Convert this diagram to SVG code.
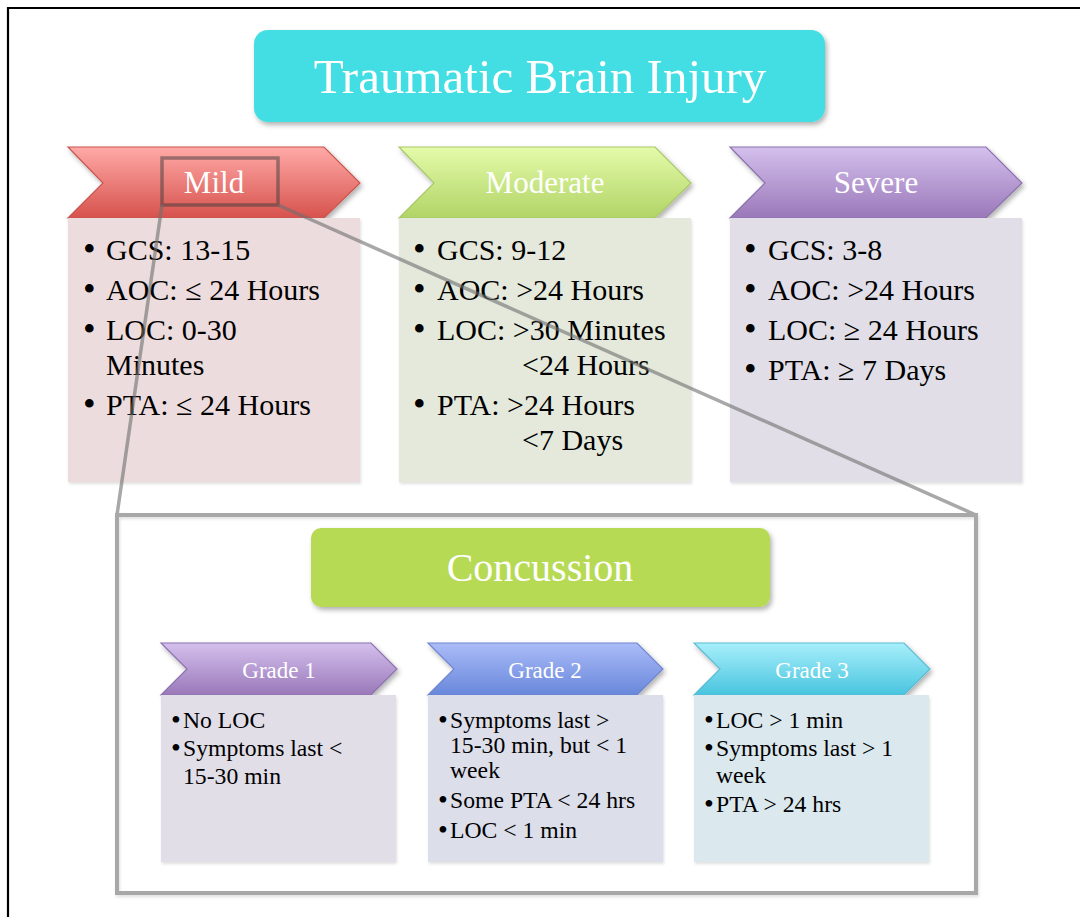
<svg xmlns="http://www.w3.org/2000/svg" width="1080" height="917" viewBox="0 0 1080 917">
<defs>
<linearGradient id="gRed" x1="0" y1="0" x2="0" y2="1"><stop offset="0" stop-color="#FFAAA7"/><stop offset="1" stop-color="#D7524D"/></linearGradient>
<linearGradient id="gGreen" x1="0" y1="0" x2="0" y2="1"><stop offset="0" stop-color="#E4FBAA"/><stop offset="1" stop-color="#B1D466"/></linearGradient>
<linearGradient id="gPurple" x1="0" y1="0" x2="0" y2="1"><stop offset="0" stop-color="#D4C0ED"/><stop offset="1" stop-color="#9A78B9"/></linearGradient>
<linearGradient id="gBlue" x1="0" y1="0" x2="0" y2="1"><stop offset="0" stop-color="#ABBCF8"/><stop offset="1" stop-color="#6887DB"/></linearGradient>
<linearGradient id="gCyan" x1="0" y1="0" x2="0" y2="1"><stop offset="0" stop-color="#A8EFFB"/><stop offset="1" stop-color="#48C4DE"/></linearGradient>
<filter id="sh" x="-10%" y="-10%" width="125%" height="135%"><feDropShadow dx="2" dy="3" stdDeviation="2.5" flood-color="#000" flood-opacity="0.3"/></filter>
<filter id="shs" x="-10%" y="-10%" width="125%" height="135%"><feDropShadow dx="1" dy="2" stdDeviation="1.5" flood-color="#000" flood-opacity="0.12"/></filter>
</defs>
<style>
.lbl{font-family:"Liberation Serif","Times New Roman",serif;fill:#fff;text-anchor:middle}
.t{font-family:"Liberation Serif","Times New Roman",serif;fill:#000;font-size:30px}
.b{font-family:"Liberation Serif","Times New Roman",serif;fill:#000;font-size:36px}
.g{font-family:"Liberation Serif","Times New Roman",serif;fill:#000;font-size:23.7px}
.gb{font-family:"Liberation Serif","Times New Roman",serif;fill:#000;font-size:28px}
.chev{stroke-width:1.2}
.conn{fill:none;stroke:#6e6e6e;stroke-opacity:0.6;stroke-width:3.5}
</style>
<rect x="0" y="0" width="1080" height="917" fill="#fff"/>
<path d="M8,917 V8 H1080" fill="none" stroke="#000" stroke-width="2.2"/>

<g id="title">
<rect x="254" y="30" width="571" height="92" rx="14" fill="#42DEE3" filter="url(#sh)"/>
<text class="lbl" x="540" y="93" font-size="49">Traumatic Brain Injury</text>
</g>

<g id="mild">
<path class="chev" d="M68,147 H324 L360,183 L324,218 H68 L103,183 Z" fill="url(#gRed)" stroke="#C9554F" filter="url(#sh)"/>
<text class="lbl" x="214" y="193" font-size="31">Mild</text>
<rect x="68" y="218" width="292" height="264" fill="#EDDCDD" filter="url(#shs)"/>
<text class="b" x="83" y="261">•</text><text class="t" x="106" y="260">GCS: 13-15</text>
<text class="b" x="83" y="301">•</text><text class="t" x="106" y="300">AOC: ≤ 24 Hours</text>
<text class="b" x="83" y="341">•</text><text class="t" x="106" y="340">LOC: 0-30</text>
<text class="t" x="106" y="375">Minutes</text>
<text class="b" x="83" y="416">•</text><text class="t" x="106" y="415">PTA: ≤ 24 Hours</text>
</g>

<g id="moderate">
<path class="chev" d="M399,147 H655 L691,183 L655,218 H399 L434,183 Z" fill="url(#gGreen)" stroke="#A9C86A" filter="url(#sh)"/>
<text class="lbl" x="545" y="193" font-size="31">Moderate</text>
<rect x="399" y="218" width="292" height="264" fill="#E4E9DB" filter="url(#shs)"/>
<text class="b" x="413" y="261">•</text><text class="t" x="437" y="260">GCS: 9-12</text>
<text class="b" x="413" y="301">•</text><text class="t" x="437" y="300">AOC: &gt;24 Hours</text>
<text class="b" x="413" y="341">•</text><text class="t" x="437" y="340">LOC: &gt;30 Minutes</text>
<text class="t" x="522" y="375">&lt;24 Hours</text>
<text class="b" x="413" y="416">•</text><text class="t" x="437" y="415">PTA: &gt;24 Hours</text>
<text class="t" x="522" y="450">&lt;7 Days</text>
</g>

<g id="severe">
<path class="chev" d="M730,147 H986 L1022,183 L986,218 H730 L765,183 Z" fill="url(#gPurple)" stroke="#8C72AE" filter="url(#sh)"/>
<text class="lbl" x="876" y="193" font-size="31">Severe</text>
<rect x="730" y="218" width="292" height="264" fill="#E1DEE7" filter="url(#shs)"/>
<text class="b" x="744" y="261">•</text><text class="t" x="768" y="260">GCS: 3-8</text>
<text class="b" x="744" y="301">•</text><text class="t" x="768" y="300">AOC: &gt;24 Hours</text>
<text class="b" x="744" y="341">•</text><text class="t" x="768" y="340">LOC: ≥ 24 Hours</text>
<text class="b" x="744" y="381">•</text><text class="t" x="768" y="380">PTA: ≥ 7 Days</text>
</g>

<g id="connectors">
<rect x="162" y="158" width="116" height="47" fill="none" stroke="#3c3c3c" stroke-opacity="0.5" stroke-width="3.5"/>
<line class="conn" x1="162" y1="205" x2="117" y2="515"/>
<line class="conn" x1="278" y1="205" x2="976" y2="515"/>
<rect x="117" y="515" width="859" height="378" fill="none" stroke="#A8A8A8" stroke-width="4" filter="url(#shs)"/>
</g>

<g id="concussion">
<rect x="311" y="528" width="459" height="79" rx="10" fill="#B7DA55" filter="url(#sh)"/>
<text class="lbl" x="540" y="581" font-size="40">Concussion</text>
</g>

<g id="grade1">
<path class="chev" d="M161,643 H371 L397,669 L371,695 H161 L187,669 Z" fill="url(#gPurple)" stroke="#8C72AE" filter="url(#sh)"/>
<text class="lbl" x="279" y="678" font-size="23">Grade 1</text>
<rect x="161" y="695" width="235" height="167" fill="#E1DEE8" filter="url(#shs)"/>
<text class="gb" x="171" y="729">•</text><text class="g" x="183" y="728">No LOC</text>
<text class="gb" x="171" y="757">•</text><text class="g" x="183" y="756">Symptoms last &lt;</text>
<text class="g" x="183" y="784">15-30 min</text>
</g>

<g id="grade2">
<path class="chev" d="M428,643 H637 L663,669 L637,695 H428 L454,669 Z" fill="url(#gBlue)" stroke="#6F86D0" filter="url(#sh)"/>
<text class="lbl" x="545" y="678" font-size="23">Grade 2</text>
<rect x="428" y="695" width="235" height="167" fill="#DCDEEA" filter="url(#shs)"/>
<text class="gb" x="438" y="729">•</text><text class="g" x="450" y="728">Symptoms last &gt;</text>
<text class="g" x="450" y="753">15-30 min, but &lt; 1</text>
<text class="g" x="450" y="778">week</text>
<text class="gb" x="438" y="809">•</text><text class="g" x="450" y="808">Some PTA &lt; 24 hrs</text>
<text class="gb" x="438" y="839">•</text><text class="g" x="450" y="838">LOC &lt; 1 min</text>
</g>

<g id="grade3">
<path class="chev" d="M694,643 H904 L930,669 L904,695 H694 L720,669 Z" fill="url(#gCyan)" stroke="#5BBCD3" filter="url(#sh)"/>
<text class="lbl" x="812" y="678" font-size="23">Grade 3</text>
<rect x="694" y="695" width="235" height="167" fill="#DBE8EE" filter="url(#shs)"/>
<text class="gb" x="704" y="729">•</text><text class="g" x="716" y="728">LOC &gt; 1 min</text>
<text class="gb" x="704" y="757">•</text><text class="g" x="716" y="756">Symptoms last &gt; 1</text>
<text class="g" x="716" y="783">week</text>
<text class="gb" x="704" y="813">•</text><text class="g" x="716" y="812">PTA &gt; 24 hrs</text>
</g>
</svg>
